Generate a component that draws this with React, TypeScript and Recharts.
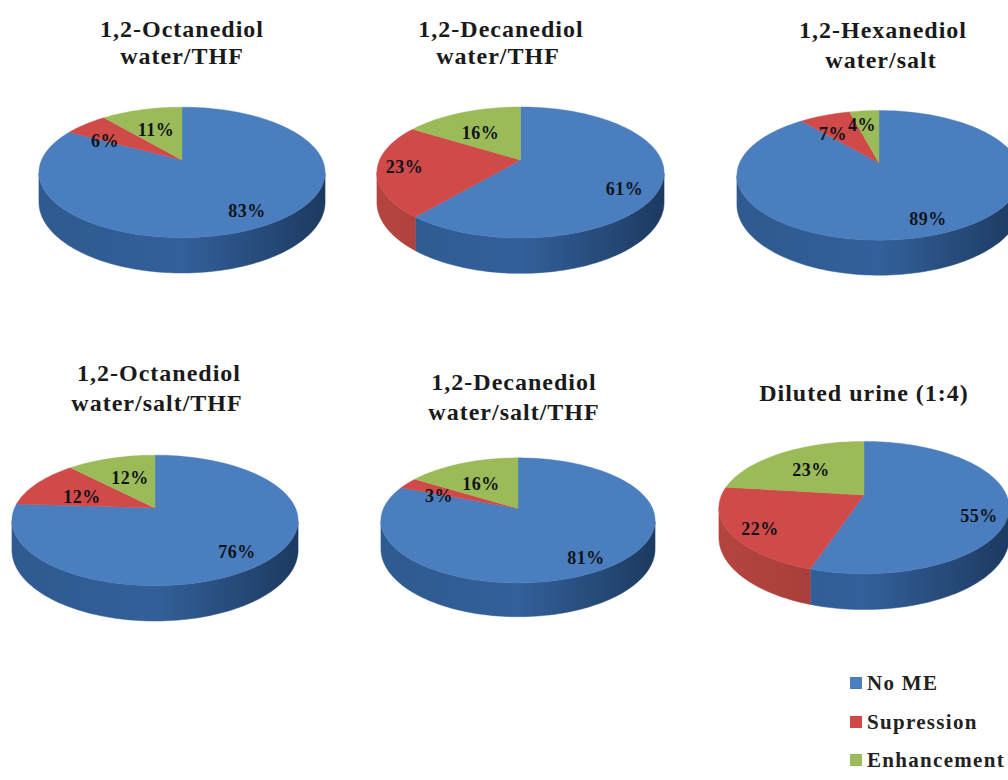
import React from 'react';
import { PieChart, Pie, Legend } from 'recharts';

const seriesNames = ['No ME', 'Supression', 'Enhancement'];
const seriesColors = ['#4a7ebf', '#cf4a48', '#9bbb59'];
const noEffect = [83, 61, 89, 76, 81, 55];
const suppression = [6, 23, 7, 12, 3, 22];
const enhancement = [11, 16, 4, 12, 16, 23];

// Wall shading for each series, left / middle / right of a pie
const wallShades = [
  ['#2e5a90', '#33609a', '#1d3a60'],
  ['#b5443f', '#a03c39', '#7c2e2c'],
  ['#7f9a48', '#748c42', '#5a6d33'],
];

const FONT = '"Liberation Serif", serif';

// Placement of each pie: hub position and half width
const pieFrames = [
  { cx: 182, cy: 160, r: 143 },
  { cx: 520.5, cy: 160, r: 143.5 },
  { cx: 879, cy: 163, r: 142 },
  { cx: 155, cy: 508, r: 143 },
  { cx: 518, cy: 508.5, r: 137 },
  { cx: 864, cy: 495, r: 145 },
];

// Label centres relative to the hub, one per slice
const labelSpots = [
  [[65, 51], [-77, -19], [-26, -30]],
  [[104, 29], [-116, 7], [-40, -27]],
  [[49, 56], [-46, -29], [-17, -38]],
  [[82, 44], [-73, -11], [-25, -30]],
  [[68, 49], [-79, -13], [-37, -25]],
  [[115, 21], [-104, 34], [-53, -25]],
];

const titleLines = [
  { x: 182, y: 29, text: '1,2-Octanediol' },
  { x: 182, y: 56, text: 'water/THF' },
  { x: 501, y: 29, text: '1,2-Decanediol' },
  { x: 498, y: 56, text: 'water/THF' },
  { x: 883, y: 30, text: '1,2-Hexanediol' },
  { x: 881, y: 60, text: 'water/salt' },
  { x: 159, y: 373, text: '1,2-Octanediol' },
  { x: 157, y: 403, text: 'water/salt/THF' },
  { x: 514, y: 382, text: '1,2-Decanediol' },
  { x: 514, y: 412, text: 'water/salt/THF' },
  { x: 864, y: 393, text: 'Diluted urine (1:4)' },
];

const TILT = 0.19; // far edge of the disc shrinks, near edge grows
const SQUASH = 0.44; // vertical flattening of the disc
const DEPTH = 0.2; // wall height as a share of the half width

// Projects a point of the flat disc on to the tilted one
function project(cx: number, cy: number, r: number, angle: number, frac = 1) {
  const t = (angle * Math.PI) / 180;
  const u = Math.cos(t) * frac;
  const v = Math.sin(t) * frac;
  const w = 1 + TILT * v;
  return {
    x: cx + ((r / 1.018) * u) / w,
    y: cy - (SQUASH * r * v) / w,
    drop: (DEPTH * r) / w,
    v,
  };
}

function arcAngles(from: number, to: number) {
  const steps = Math.max(2, Math.ceil(Math.abs(to - from) / 1.5));
  return Array.from({ length: steps + 1 }, (_, i) => from + ((to - from) * i) / steps);
}

function SliceShape(props: any) {
  const { cx, cy, outerRadius: r, startAngle, endAngle, fill, payload } = props;
  const rim = arcAngles(startAngle, endAngle).map((a) => project(cx, cy, r, a));
  const top =
    `M${cx},${cy} ` + rim.map((p) => `L${p.x.toFixed(2)},${p.y.toFixed(2)}`).join(' ') + ' Z';

  // The wall is only seen along the near part of the rim
  const near = rim.filter((p) => p.v <= -TILT + 0.01);
  const id = `wall-${Math.round(cx)}-${payload.series}`;
  const shades = wallShades[payload.series];
  const wall =
    near.length > 1
      ? near.map((p, i) => `${i ? 'L' : 'M'}${p.x.toFixed(2)},${p.y.toFixed(2)}`).join(' ') +
        ' ' +
        [...near]
          .reverse()
          .map((p) => `L${p.x.toFixed(2)},${(p.y + p.drop).toFixed(2)}`)
          .join(' ') +
        ' Z'
      : null;

  return (
    <g>
      <defs>
        <linearGradient id={id} gradientUnits="userSpaceOnUse" x1={cx - r} x2={cx + r} y1={0} y2={0}>
          <stop offset="0%" stopColor={shades[0]} />
          <stop offset="50%" stopColor={shades[1]} />
          <stop offset="100%" stopColor={shades[2]} />
        </linearGradient>
      </defs>
      {wall && <path d={wall} fill={`url(#${id})`} stroke={`url(#${id})`} strokeWidth={0.5} />}
      <path d={top} fill={fill} stroke={fill} strokeWidth={0.4} />
    </g>
  );
}

function sliceLabel(pieIndex: number) {
  return (props: any) => {
    const { index, value } = props;
    const frame = pieFrames[pieIndex];
    const [dx, dy] = labelSpots[pieIndex][index];
    return (
      <text
        x={frame.cx + dx}
        y={frame.cy + dy}
        textAnchor="middle"
        dominantBaseline="central"
        fontFamily={FONT}
        fontWeight={700}
        fontSize={18}
        letterSpacing={0.5}
        fill="#10131a"
      >
        {`${value}%`}
      </text>
    );
  };
}

function legendContent() {
  return (
    <div style={{ fontFamily: FONT, fontWeight: 700, fontSize: 21, letterSpacing: 1.3, color: '#222', lineHeight: '18px' }}>
      {seriesNames.map((name, i) => (
        <div
          key={name}
          style={{ position: 'absolute', left: 0, top: [0, 39, 77][i], whiteSpace: 'nowrap', display: 'flex', alignItems: 'center' }}
        >
          <span style={{ width: 12, height: 12, background: seriesColors[i], marginRight: 5, display: 'inline-block' }} />
          {name}
        </div>
      ))}
    </div>
  );
}

function pieData(i: number) {
  return [noEffect[i], suppression[i], enhancement[i]].map((value, series) => ({
    name: seriesNames[series],
    value,
    series,
    fill: seriesColors[series],
  }));
}

export default function App() {
  return (
    <div style={{ position: 'absolute', left: 0, top: 0, width: 1008, height: 780, overflow: 'hidden', background: '#fff' }}>
      <PieChart width={1008} height={780} margin={{ top: 0, right: 0, bottom: 0, left: 0 }}>
        {pieFrames.map((frame, i) => (
          <Pie
            key={i}
            data={pieData(i)}
            dataKey="value"
            nameKey="name"
            cx={frame.cx}
            cy={frame.cy}
            innerRadius={0}
            outerRadius={frame.r}
            startAngle={90}
            endAngle={-270}
            paddingAngle={0}
            stroke="none"
            isAnimationActive={false}
            labelLine={false}
            label={sliceLabel(i)}
            shape={SliceShape}
          />
        ))}
        <Legend content={legendContent} wrapperStyle={{ position: 'absolute', left: 850, top: 674, width: 158, height: 100, bottom: 'auto' }} />
      </PieChart>
      {titleLines.map((line, i) => (
        <div
          key={i}
          style={{
            position: 'absolute',
            left: line.x,
            top: line.y,
            transform: 'translate(-50%, -50%)',
            fontFamily: FONT,
            fontWeight: 700,
            fontSize: 24,
            letterSpacing: 1,
            color: '#1a1a1a',
            whiteSpace: 'nowrap',
          }}
        >
          {line.text}
        </div>
      ))}
    </div>
  );
}
